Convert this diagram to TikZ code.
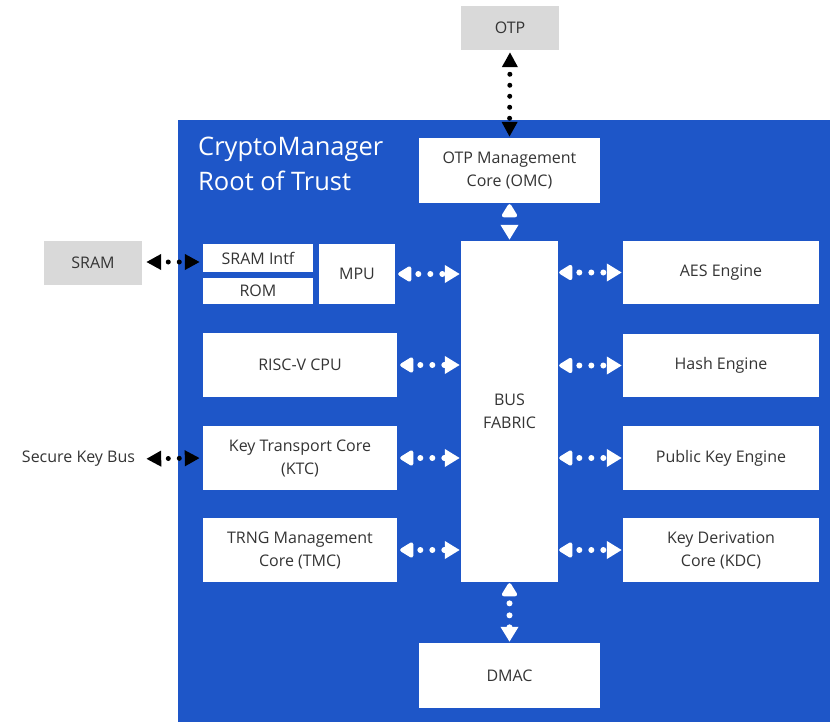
\documentclass[tikz,border=0pt]{standalone}
\usepackage{fontspec}
\setmainfont{Open Sans}
\usetikzlibrary{arrows.meta}
\definecolor{cmblue}{RGB}{30,86,200}
\definecolor{extgray}{RGB}{217,217,217}
\definecolor{txtgray}{RGB}{52,52,52}
\tikzset{
  blk/.style={fill=white, text=txtgray, align=center, inner sep=0pt,
    font=\fontsize{16}{23}\selectfont},
  extblk/.style={blk, fill=extgray},
  wlink/.style={white, line width=6pt, line cap=round, dash pattern=on 0pt off 12pt, dash phase=4pt,
    {Triangle[width=17pt,length=15pt,round=false]}-{Triangle[width=17pt,length=15pt]}},
  blink/.style={black, line width=5pt, line cap=round, dash pattern=on 0pt off 11pt, dash phase=3pt,
    {Triangle[width=15pt,length=15pt]}-{Triangle[width=15pt,length=15pt]}},
}
\begin{document}
\begin{tikzpicture}[x=1pt, y=-1pt]
  \useasboundingbox (0,0) rectangle (830,722);
  \fill[cmblue] (178,120) rectangle (830,722);
  \node[anchor=north west, white, align=left, inner sep=0pt,
    font=\fontsize{25.5}{35}\selectfont] (title) at (198,137) {CryptoManager\\Root of Trust};
  % outside
  \node[extblk, minimum width=98pt, minimum height=44pt] (otp) at (510,28) {OTP};
  \node[extblk, minimum width=98pt, minimum height=44pt] (sram) at (93,263) {SRAM};
  \node[blk, fill=none, inner sep=0pt] (skb) at (78.5,459) {Secure Key Bus};
  % left column
  \node[blk, minimum width=110pt, minimum height=28pt] (sramif) at (258,258) {SRAM Intf};
  \node[blk, minimum width=110pt, minimum height=26pt] (rom) at (258,291) {ROM};
  \node[blk, minimum width=76pt, minimum height=60pt] (mpu) at (357,274) {MPU};
  \node[blk, minimum width=194pt, minimum height=64pt] (cpu) at (300,365) {RISC-V CPU};
  \node[blk, minimum width=194pt, minimum height=64pt] (ktc) at (300,458) {Key Transport Core\\(KTC)};
  \node[blk, minimum width=194pt, minimum height=64pt] (tmc) at (300,550) {TRNG Management\\Core (TMC)};
  % middle
  \node[blk, minimum width=181pt, minimum height=65pt] (omc) at (509.5,170.5) {OTP Management\\Core (OMC)};
  \node[blk, minimum width=97pt, minimum height=341pt] (bus) at (509.5,411.5) {BUS\\FABRIC};
  \node[blk, minimum width=181pt, minimum height=65pt] (dmac) at (509.5,675.5) {DMAC};
  % right column
  \node[blk, minimum width=196pt, minimum height=63pt] (aes) at (721,272.5) {AES Engine};
  \node[blk, minimum width=196pt, minimum height=63pt] (hash) at (721,365.5) {Hash Engine};
  \node[blk, minimum width=196pt, minimum height=64pt] (pke) at (721,458) {Public Key Engine};
  \node[blk, minimum width=196pt, minimum height=64pt] (kdc) at (721,550) {Key Derivation\\Core (KDC)};
  % links
  \draw[blink, shorten <=2pt, shorten >=1pt] (otp.south) -- (omc.north);
  \draw[blink, shorten <=4pt, shorten >=3pt] (sram.east |- sramif.west) ++(0,4) coordinate (s1) -- (sramif.west |- s1);
  \draw[blink, shorten <=11pt, shorten >=3pt] (skb.east) -- (ktc.west);
  \draw[wlink, shorten <=3pt, shorten >=1pt] (mpu.east) -- (mpu.east -| bus.west);
  \foreach \n in {cpu,ktc,tmc}
    \draw[wlink, shorten <=3pt, shorten >=1pt] (\n.east) -- (\n.east -| bus.west);
  \foreach \n in {aes,hash,pke,kdc}
    \draw[wlink, shorten <=1pt, shorten >=1pt] (\n.west -| bus.east) -- (\n.west);
  \draw[wlink, dash pattern=on 0pt off 40pt, shorten <=1pt, shorten >=1pt] (omc.south) -- (bus.north);
  \draw[wlink, shorten <=1pt, shorten >=1pt] (bus.south) -- (dmac.north);
\end{tikzpicture}
\end{document}
